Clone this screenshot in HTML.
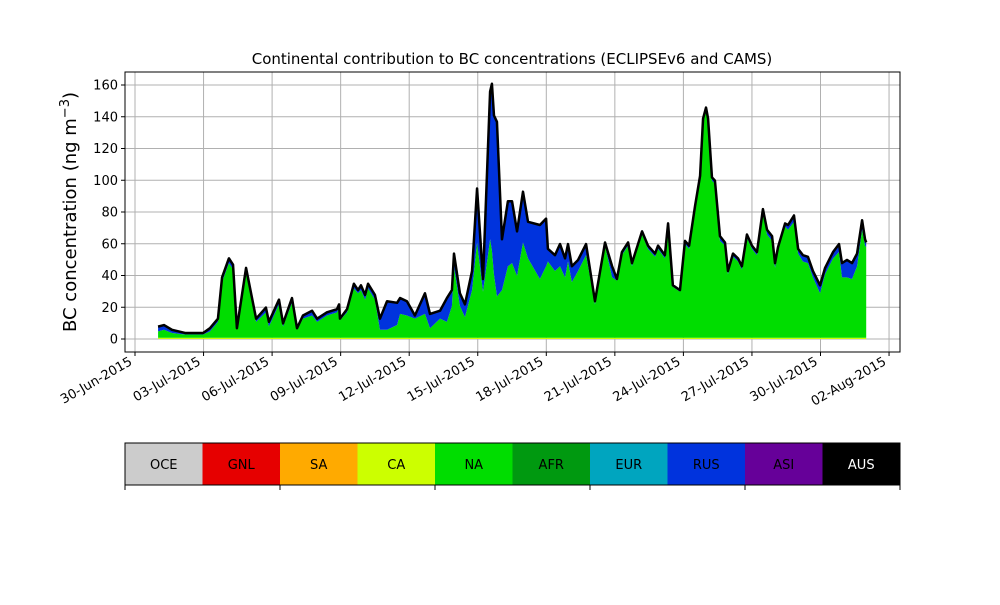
<!DOCTYPE html>
<html><head><meta charset="utf-8"><style>
body{margin:0;background:#fff;font-family:"Liberation Sans","DejaVu Sans",sans-serif;}
svg text{font-family:"DejaVu Sans","Liberation Sans",sans-serif;}
</style></head><body>
<svg id="chart" width="1000" height="600" xmlns="http://www.w3.org/2000/svg"></svg>
<script>
const days=[1.01,1.27,1.62,2.19,2.98,3.28,3.63,3.81,4.11,4.29,4.46,4.86,5.30,5.73,5.86,6.30,6.48,6.87,7.09,7.35,7.75,7.97,8.40,8.84,8.93,8.97,9.28,9.58,9.76,9.89,10.07,10.20,10.50,10.72,11.03,11.47,11.60,11.90,12.25,12.69,12.91,13.35,13.65,13.87,13.96,14.22,14.44,14.75,14.97,15.23,15.54,15.62,15.71,15.84,16.06,16.32,16.50,16.72,16.98,17.20,17.72,17.99,18.07,18.38,18.60,18.82,18.95,19.12,19.39,19.74,20.13,20.57,20.88,21.09,21.31,21.58,21.75,22.19,22.45,22.76,22.89,23.19,23.33,23.54,23.85,24.07,24.25,24.51,24.73,24.86,24.99,25.08,25.25,25.38,25.60,25.82,25.95,26.17,26.39,26.56,26.78,27.00,27.22,27.48,27.66,27.88,28.01,28.14,28.45,28.58,28.84,29.02,29.23,29.45,29.67,29.98,30.20,30.55,30.81,30.94,31.16,31.38,31.60,31.82,31.95,32.0];
const totals=[7,8,5,3,3,6,12,38,50,46,6,44,12,19,10,24,9,25,6,14,17,12,16,18,21,12,18,34,30,33,27,34,27,12,23,22,25,23,14,28,15,17,25,30,53,28,21,42,94,37,155,160,140,136,62,86,86,67,92,73,71,75,56,52,59,50,59,45,49,59,23,60,45,37,54,60,47,67,58,53,58,52,72,33,30,61,58,83,102,138,145,138,101,99,64,60,42,53,50,45,65,58,54,81,68,64,47,57,72,71,77,56,52,51,42,33,44,54,59,47,49,47,53,74,62,60];
const naVals=[4,5,3,2,2,4,10,35,47,43,5,42,10,16,7,21,7,22,5,12,14,10,14,16,19,11,16,31,28,30,24,31,24,5,5,8,15,14,12,15,6,12,10,20,45,20,13,30,60,29,62,55,40,26,30,45,47,39,60,50,37,45,48,42,45,38,48,35,42,52,21,58,38,36,52,58,45,65,56,51,56,50,70,32,29,59,56,81,100,136,143,136,99,97,61,58,40,51,48,43,63,56,52,78,65,61,44,55,70,68,73,53,48,47,38,28,40,50,54,38,38,37,45,68,58,57];
const caVal=0.8;
const yTicks=[0,20,40,60,80,100,120,140,160];
const xTickDays=[0,3,6,9,12,15,18,21,24,27,30,33];
const xTickLabels=["30-Jun-2015","03-Jul-2015","06-Jul-2015","09-Jul-2015","12-Jul-2015","15-Jul-2015","18-Jul-2015","21-Jul-2015","24-Jul-2015","27-Jul-2015","30-Jul-2015","02-Aug-2015"];
const regions=["OCE","GNL","SA","CA","NA","AFR","EUR","RUS","ASI","AUS"];
const regionColors=["#cccccc","#e60000","#ffaa00","#ccff00","#00dd00","#009910","#00a5bf","#0033dd","#660099","#000000"];

const NS="http://www.w3.org/2000/svg";
const svg=document.getElementById('chart');
const L=125,R=900,T=72,B=352;
const xS=d=>135+d*22.85;
const yS=v=>339-v*1.5875;
function mk(tag,attrs,parent){const e=document.createElementNS(NS,tag);for(const k in attrs)e.setAttribute(k,attrs[k]);(parent||svg).appendChild(e);return e;}

yTicks.forEach(v=>{
  const g=mk('line',{x1:L,x2:R,y1:yS(v),y2:yS(v),stroke:'#b0b0b0','stroke-width':1});
  
  
});
xTickDays.forEach(d=>{
  const g=mk('line',{x1:xS(d),x2:xS(d),y1:T,y2:B,stroke:'#b0b0b0','stroke-width':1});
  
  
});

function area(lower,upper,color,name){
  let d='M'+xS(days[0])+','+yS(upper[0]);
  for(let i=1;i<days.length;i++)d+='L'+xS(days[i])+','+yS(upper[i]);
  for(let i=days.length-1;i>=0;i--)d+='L'+xS(days[i])+','+yS(lower[i]);
  const p=mk('path',{d:d+'Z',fill:color,stroke:'none'});
  
  
}
const zero=days.map(()=>0);
const caTop=days.map(()=>caVal);
const naTop=naVals.map(v=>v+caVal);
const totTop=totals.map((v,i)=>Math.max(v,naVals[i])+caVal);
area(zero,caTop,'#ccff00','ca-area');
area(caTop,naTop,'#00dd00','na-area');
area(naTop,totTop,'#0033dd','rus-area');
let ld='M'+xS(days[0])+','+yS(totTop[0]);
for(let i=1;i<days.length;i++)ld+='L'+xS(days[i])+','+yS(totTop[i]);
const tl=mk('path',{d:ld,fill:'none',stroke:'#000','stroke-width':2.5,'stroke-linejoin':'round'});



const fr=mk('rect',{x:L,y:T,width:R-L,height:B-T,fill:'none',stroke:'#000','stroke-width':1});



yTicks.forEach(v=>{
  mk('line',{x1:L-4,x2:L,y1:yS(v),y2:yS(v),stroke:'#000'});
  const t=mk('text',{x:L-7,y:yS(v)+4.5,'text-anchor':'end','font-size':13});
  t.textContent=v;
  
  
});
xTickDays.forEach((d,i)=>{
  mk('line',{x1:xS(d),x2:xS(d),y1:B,y2:B+4,stroke:'#000'});
  const t=mk('text',{x:xS(d)-2,y:B+12,'text-anchor':'end','font-size':13,transform:`rotate(-30 ${xS(d)-2} ${B+12})`});
  t.textContent=xTickLabels[i];
  
  
});
const title=mk('text',{x:512,y:64,'text-anchor':'middle','font-size':15});
title.textContent='Continental contribution to BC concentrations (ECLIPSEv6 and CAMS)';


const yl=mk('text',{x:0,y:0,'text-anchor':'middle','font-size':18,transform:'translate(76,212) rotate(-90)'});
yl.innerHTML='BC concentration (ng m<tspan dy="-7" font-size="13">−3</tspan><tspan dy="7">)</tspan>';



const cw=77.5;
regions.forEach((r,i)=>{
  const rc=mk('rect',{x:125+i*cw,y:443,width:cw,height:42,fill:regionColors[i]});
  
  
  const t=mk('text',{x:125+i*cw+cw/2,y:469,'text-anchor':'middle','font-size':13,fill:(r==='AUS'?'#fff':'#000')});
  t.textContent=r;
  
  
});
const cb=mk('rect',{x:125,y:443,width:775,height:42,fill:'none',stroke:'#000','stroke-width':1});


[0,2,4,6,8,10].forEach(k=>mk('line',{x1:125+k*cw,x2:125+k*cw,y1:485,y2:490,stroke:'#000'}));
</script>
</body></html>
